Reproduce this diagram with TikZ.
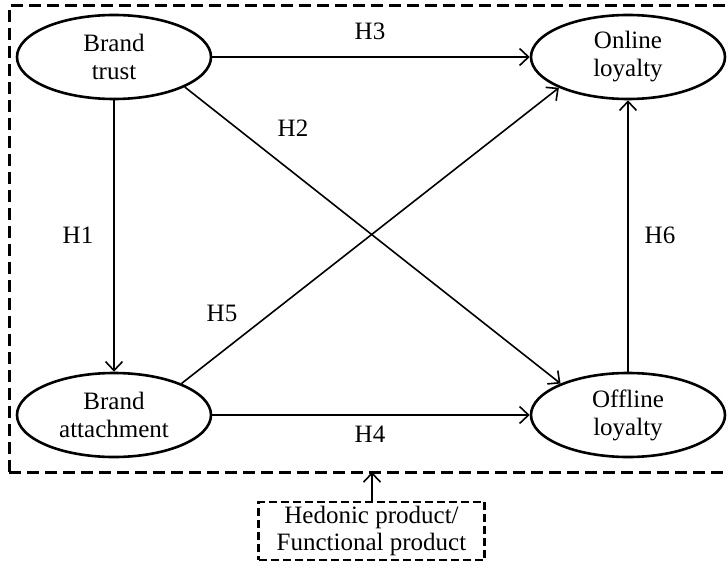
\documentclass[tikz,border=0pt]{standalone}
\usepackage{fontspec}
\setmainfont{Liberation Serif}
\usetikzlibrary{arrows.meta,shapes.geometric}
\begin{document}
\begin{tikzpicture}[x=1pt,y=-1pt,
  construct/.style={draw,line width=2.6pt,ellipse,minimum width=194pt,minimum height=84pt,inner sep=0pt,align=center,font=\fontsize{25}{28}\selectfont},
  path/.style={line width=1.6pt,-{Straight Barb[length=9pt,width=17pt,line width=1.6pt]}},
  lbl/.style={font=\fontsize{25}{28}\selectfont,inner sep=0pt},
  frame/.style={line width=3pt,dash pattern=on 12pt off 6pt}]
\useasboundingbox (0,0) rectangle (727,564);
\node[construct] (bt) at (114,57) {Brand\\trust};
\node[construct] (ol) at (628,57) {Online\\loyalty};
\node[construct] (ba) at (114,415) {Brand\\attachment};
\node[construct] (fl) at (628,415) {Offline\\loyalty};
\draw[frame] (9,472) -- (9,6) -- (727,6);
\draw[frame] (9,472) -- (727,472);
\coordinate (fb) at (372,472);
\node[draw,line width=2.4pt,dash pattern=on 8pt off 4pt,minimum width=226pt,minimum height=58pt,inner sep=0pt,align=center,font=\fontsize{25}{27}\selectfont] (mod) at (371.5,531) {Hedonic product/\\Functional product};
\draw[path] (bt) -- (ol);
\draw[path] (bt) -- (ba);
\draw[path] (bt.-23) -- (fl.155);
\draw[path] (ba.25) -- (ol.-156);
\draw[path] (ba) -- (fl);
\draw[path] (fl) -- (ol);
\draw[path] (mod.north -| fb) -- (fb);
\node[lbl] (h1) at (78,235) {H1};
\node[lbl] (h2) at (293,128) {H2};
\node[lbl] (h3) at (370,31) {H3};
\node[lbl] (h4) at (370,434) {H4};
\node[lbl] (h5) at (222,313) {H5};
\node[lbl] (h6) at (660,235) {H6};
\end{tikzpicture}
\end{document}
